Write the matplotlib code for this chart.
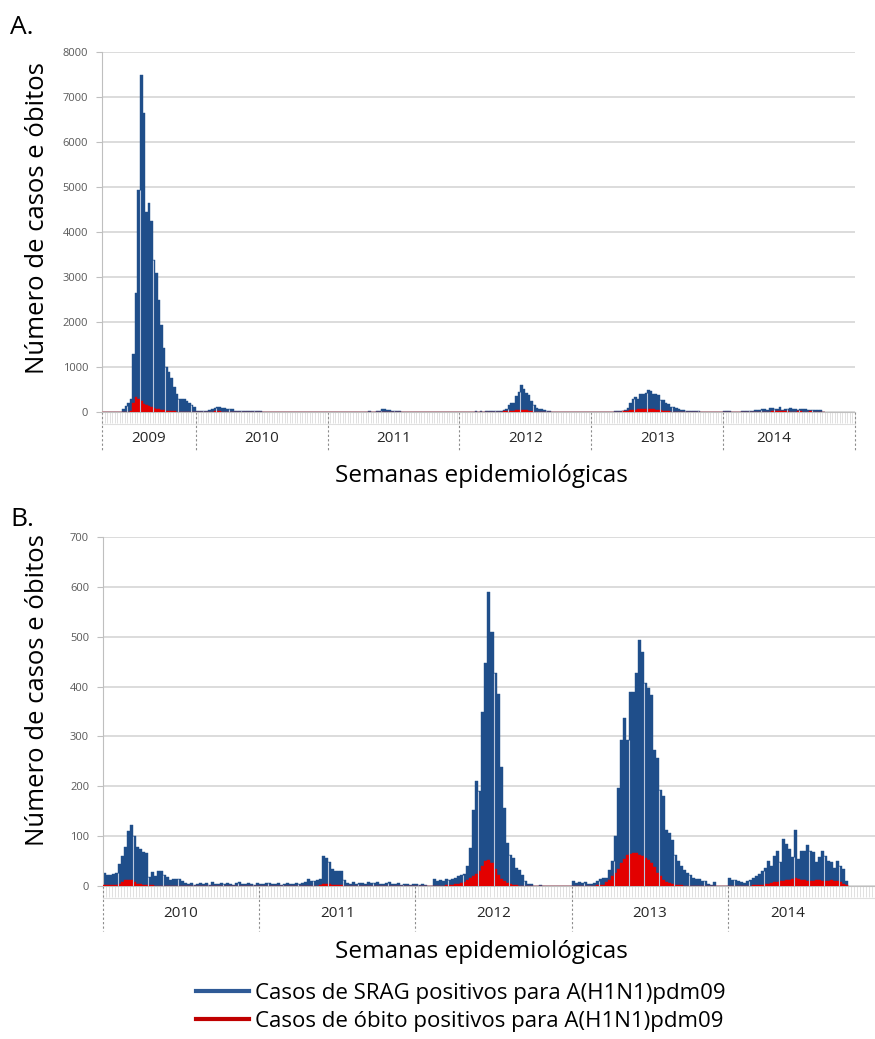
import numpy as np
import matplotlib
matplotlib.use("Agg")
import matplotlib.pyplot as plt
from matplotlib.lines import Line2D
from matplotlib.transforms import blended_transform_factory

plt.rcParams['font.family'] = ['Open Sans', 'DejaVu Sans']

# weekly counts (2009 starts at epi week 16, 2014 ends at week 40)
srag_2009 = [0, 0, 0, 0, 0, 0, 0, 5, 60, 130, 200, 300,
             1280, 2640, 4940, 7500, 6650, 4450, 4640, 4240, 3380, 3090, 2500, 1940, 1420,
             1010, 900, 760, 560, 400, 300, 300, 290, 240, 200, 160, 120]
obitos_2009 = [0, 0, 0, 0, 0, 0, 0, 0, 2, 5, 10, 30,
               200, 330, 300, 250, 180, 150, 130, 110, 90, 70, 60, 50, 40,
               30, 25, 20, 15, 10, 8, 6, 5, 4, 3, 3, 2]

srag_2010 = [27, 22, 22, 25, 26, 44, 60, 78, 110, 122, 100, 78, 74,
             68, 66, 18, 28, 20, 30, 30, 22, 18, 12, 15, 14, 15,
             10, 6, 4, 6, 3, 5, 7, 4, 6, 3, 8, 5, 4,
             6, 5, 7, 4, 3, 6, 8, 5, 4, 7, 5, 3, 6]
obitos_2010 = [3, 3, 3, 3, 3, 5, 8, 12, 13, 12, 8, 5, 4,
               3, 2, 2, 2, 1, 1, 1, 1, 1, 1, 1, 1, 1,
               1, 0, 1, 0, 0, 1, 0, 0, 1, 0, 0, 0, 1,
               0, 0, 1, 0, 0, 0, 1, 0, 0, 0, 1, 0, 0]

srag_2011 = [5, 4, 6, 7, 5, 4, 6, 3, 5, 6, 4, 5, 7,
             4, 6, 8, 15, 10, 10, 12, 14, 61, 57, 48, 35, 31,
             31, 31, 12, 6, 4, 8, 5, 7, 6, 5, 8, 6, 7,
             9, 5, 4, 6, 8, 5, 4, 6, 3, 5, 4, 3, 5]
obitos_2011 = [0, 0, 1, 0, 0, 0, 1, 0, 0, 1, 0, 0, 1,
               0, 0, 1, 1, 1, 1, 1, 2, 4, 5, 4, 3, 2,
               2, 2, 1, 1, 0, 1, 0, 0, 1, 0, 0, 1, 0,
               0, 1, 0, 0, 1, 0, 0, 0, 1, 0, 0, 0, 0]

srag_2012 = [5, 3, 4, 3, 0, 0, 15, 10, 12, 10, 15, 13, 15,
             17, 20, 22, 25, 40, 77, 153, 211, 190, 349, 447, 590, 510,
             427, 385, 238, 157, 87, 63, 57, 37, 33, 23, 10, 5, 5,
             0, 0, 3, 0, 0, 0, 0, 0, 0, 0, 0, 0, 0]
obitos_2012 = [0, 0, 0, 0, 0, 0, 1, 1, 1, 1, 2, 2, 3,
               4, 5, 7, 9, 12, 16, 20, 25, 30, 40, 50, 52, 47,
               35, 23, 15, 10, 6, 4, 3, 2, 1, 1, 1, 0, 0,
               0, 0, 0, 0, 0, 0, 0, 0, 0, 0, 0, 0, 0]

srag_2013 = [10, 7, 8, 6, 9, 5, 5, 7, 10, 15, 17, 17, 33,
             50, 100, 197, 293, 337, 293, 390, 390, 427, 493, 470, 407, 397,
             383, 273, 257, 193, 180, 113, 107, 93, 63, 50, 40, 33, 27,
             23, 17, 15, 15, 10, 10, 5, 3, 8, 0, 0, 0, 0]
obitos_2013 = [0, 0, 0, 0, 1, 1, 1, 1, 2, 3, 3, 8, 12,
               20, 27, 35, 47, 55, 63, 65, 67, 66, 63, 60, 57, 52,
               47, 38, 27, 20, 13, 9, 7, 5, 3, 2, 2, 1, 1,
               1, 1, 0, 0, 0, 0, 0, 0, 0, 0, 0, 0, 0]

srag_2014 = [17, 13, 12, 10, 8, 7, 10, 13, 17, 20, 25, 30, 37, 51, 41,
             60, 71, 48, 95, 85, 75, 58, 112, 54, 71, 71, 82, 71, 68, 48,
             58, 71, 60, 51, 48, 37, 51, 40, 35, 10]
obitos_2014 = [1, 1, 1, 1, 1, 1, 1, 1, 2, 2, 3, 3, 4, 5, 6,
               8, 9, 10, 10, 12, 13, 15, 17, 15, 13, 12, 11, 10, 11, 12,
               12, 11, 10, 11, 12, 11, 10, 8, 5, 2]

anos = ['2009', '2010', '2011', '2012', '2013', '2014']
semanas_ano = [37, 52, 52, 52, 52, 52]
semanas_dados_2014 = 40

BLUE = '#1f4e8a'
RED = '#e30000'
GRID = '#d9d9d9'
AXC = '#bfbfbf'

W, H = 875, 1039


def fx(px):
    return px / W


def fy(py):
    return 1 - py / H


def draw_panel(ax, srag, obitos, anos_p, semanas_p, ymax, ystep, lab_y, div_y):
    srag = np.array(srag, dtype=float)
    obitos = np.array(obitos, dtype=float)
    x = np.arange(len(srag))
    xmax = sum(semanas_p)

    ax.bar(x, srag, width=1.0, align='edge', color=BLUE, edgecolor=BLUE,
           linewidth=0.3, zorder=2)
    ax.bar(x, obitos, width=1.0, align='edge', color=RED, edgecolor=RED,
           linewidth=0.3, zorder=3)

    # light seams Excel leaves between some bars
    seam = x[(x % 5 == 0) & (x > 0)]
    hs = np.minimum(srag[seam - 1], srag[seam])
    ax.vlines(seam, 0, hs, colors='#b9c6dc', linewidth=0.8, zorder=4)

    ax.set_xlim(0, xmax)
    ax.set_ylim(0, ymax)
    ax.set_yticks(np.arange(0, ymax + 1, ystep))
    ax.yaxis.grid(True, color=GRID, linewidth=1.3)
    ax.set_axisbelow(True)
    ax.tick_params(axis='y', length=4, color=AXC, labelsize=8,
                   labelcolor='#595959', pad=6)

    ax.set_xticks([])
    ax.set_xticks(np.arange(0, xmax + 1), minor=True)
    ax.tick_params(axis='x', which='minor', length=8, color='#d4d4d4', width=0.5)
    ax.set_xticklabels([], minor=True)

    for s in ['top', 'right']:
        ax.spines[s].set_visible(False)
    ax.spines['left'].set_color(AXC)
    ax.spines['bottom'].set_color(AXC)

    tr = blended_transform_factory(ax.transData, ax.transAxes)
    ax.plot([0, xmax], [-0.034, -0.034], transform=tr, color='#e0e0e0',
            linewidth=0.8, clip_on=False)
    edges = np.concatenate([[0], np.cumsum(semanas_p)])
    for e in edges:
        ax.plot([e, e], [0, div_y], transform=tr, color='#8c8c8c',
                linewidth=0.8, linestyle=(0, (2, 2)), clip_on=False)
    for i, ano in enumerate(anos_p):
        fim = edges[i + 1]
        if ano == '2014':
            fim = edges[i] + semanas_dados_2014
        ax.text((edges[i] + fim) / 2, lab_y, ano, transform=tr,
                ha='center', va='center', fontsize=11, color='#262626')


fig = plt.figure(figsize=(W / 100, H / 100), dpi=100)

ax_a = fig.add_axes([fx(102), fy(412), fx(855) - fx(102), fy(52) - fy(412)])
ax_b = fig.add_axes([fx(103), fy(886), fx(884) - fx(103), fy(537) - fy(886)])

srag_a = srag_2009 + srag_2010 + srag_2011 + srag_2012 + srag_2013 + srag_2014
obitos_a = obitos_2009 + obitos_2010 + obitos_2011 + obitos_2012 + obitos_2013 + obitos_2014
srag_b = srag_2010 + srag_2011 + srag_2012 + srag_2013 + srag_2014
obitos_b = obitos_2010 + obitos_2011 + obitos_2012 + obitos_2013 + obitos_2014

draw_panel(ax_a, srag_a, obitos_a, anos, semanas_ano, 8000, 1000, -0.075, -0.11)
draw_panel(ax_b, srag_b, obitos_b, anos[1:], semanas_ano[1:], 700, 100, -0.08, -0.13)

for yc in [218, 690]:
    fig.text(fx(38), fy(yc), 'Número de casos e óbitos', rotation=90,
             ha='center', va='center', fontsize=18.5, color='black')
for yc in [476, 952]:
    fig.text(fx(481), fy(yc), 'Semanas epidemiológicas', ha='center',
             va='center', fontsize=17.5, color='black')

fig.text(fx(10), fy(28), 'A.', fontsize=19, va='center', ha='left')
fig.text(fx(10), fy(520), 'B.', fontsize=19, va='center', ha='left')

handles = [Line2D([], [], color='#2f5a96', linewidth=3,
                  label='Casos de SRAG positivos para A(H1N1)pdm09'),
           Line2D([], [], color='#c00000', linewidth=3,
                  label='Casos de óbito positivos para A(H1N1)pdm09')]
fig.legend(handles=handles, loc='upper left', bbox_to_anchor=(fx(196), fy(983)),
           fontsize=16, frameon=False, handlelength=2.4, handletextpad=0.25,
           labelspacing=0.3, borderaxespad=0, borderpad=0)

fig.savefig('out.png', dpi=100)
